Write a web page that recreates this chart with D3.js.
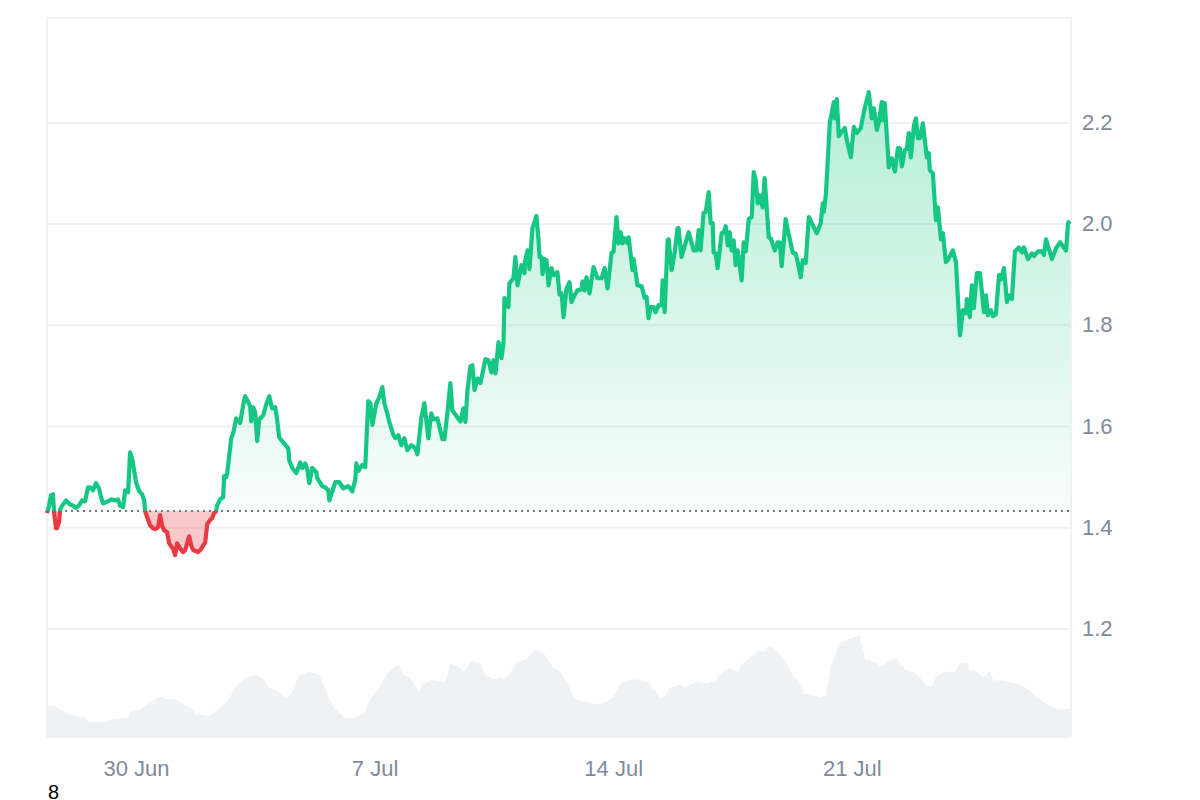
<!DOCTYPE html>
<html>
<head>
<meta charset="utf-8">
<script src="https://cdn.jsdelivr.net/npm/d3@7"></script>
<style>
  body { margin: 0; background: #fff; }
  text { font-family: "Liberation Sans", Arial, sans-serif; }
</style>
</head>
<body>
<svg width="1200" height="800"></svg>
<script>
// hours since the first sample, price at that hour
let priceHours = [0,1.4,2.8,4.2,4.9,6.3,7,8.5,9.2,10.6,13.4,16.2,18.3,20.4,22.6,24.7,26.8,28.9,30.3,32.4,34.5,36.6,38.1,39.5,43,45.1,48.6,50,51.5,53.6,55,56.4,57.1,58.5,59.9,61.3,62.7,64.1,65.5,67,68.4,69.1,70.5,72.6,74.7,76.1,78.2,79.6,81.1,82.5,84.6,86,88.8,90.2,91.6,93.7,95.9,97.3,100.1,101.5,102.9,106.4,108.5,111.4,112.8,114.9,116.3,117.7,119.1,119.8,121.9,124,124.8,126.2,126.9,129.7,131.1,133.2,134.6,136,138.1,139.5,141.7,143.1,143.8,145.2,146.6,148,149.4,152.2,154.4,156.5,157.9,158.6,160.7,162.1,163.5,165.6,169.9,170.6,172.7,175.5,178.3,179.7,181.8,183.2,184.7,186.8,189.6,190.3,193.8,195.9,198,198.8,201.6,203,205.8,208.6,212.2,215,217.1,217.8,219.2,222,224.1,226.2,227.7,229.1,231.9,234,236.1,237.5,239.6,241,243.9,245.3,247.4,249.5,251.6,253.7,256.5,259.4,260.8,263.6,265.7,268.5,270.6,272.1,274.9,278.4,279.8,281.9,284,285.4,289,291.1,293.2,294.6,296,298.1,299.5,301,303.1,305.2,308.7,310.8,312.9,314.3,315.8,317.9,320,321.4,322.1,324.9,325.6,328.4,329.8,331.3,334.1,336.2,336.5,338.3,339.7,341.8,344.6,346.1,346.8,348.2,348.9,350.3,351.7,353.1,355.2,356.6,359.4,360.9,362.3,363.7,365.8,367.9,369.3,371.4,373.5,376.4,377.1,378.5,379.9,382,384.8,387.6,390.5,392.6,394.7,397.5,398.9,401,402.4,403.9,405.3,406.7,408.8,409.5,412.3,413,415.8,418.7,420.8,422.2,423.6,425,427.1,428.5,430.6,432.7,433.5,434.9,437,437.7,439.8,441.9,444,444.7,446.8,451.8,455.3,457.4,458.8,460.2,462.3,463.8,465.9,467.3,468.7,469.4,470.8,472.2,475,476.5,477.9,479.3,480.7,482.1,483.5,484.9,486.3,489.1,490.5,492,494.1,496.2,497.6,499,500.4,501.8,503.9,505.3,508.2,509.6,512.4,514.5,515.9,517.3,520.1,521.6,525.1,527.2,528.6,530.7,532.1,534.2,536.4,539.2,542,544.8,546.2,546.9,548.4,551.2,554,554.7,556.1,557.5,558.9,561.7,563.2,566,568.1,570.2,573,575.1,578.6,580.7,582.2,584.3,585.7,587.8,588.5,589.9,592.7,594.9,597,599.1,600.5,601.9,604,605.4,606.8,608.2,610.4,611.8,613.2,614.6,616.7,619.5,620.9,621.6,623.7,625.9,627.3,629.4,630.8,632.9,634.3,637.8,640,642.8,644.9,647,647.7,649.8,651.2,652.6,654.7,656.9,659.7,661.1,662.5,664.6,666,668.1,670.3,671.7,673.8,675.9,677.3,679.4,681.5,684.3,686.5,687.9,690.7,693.5,694.9,697.8,700.6,702,703.4,707.6,710.4,713.3,717.5,718.9,720.3];
let prices = [1.428,1.442,1.463,1.465,1.432,1.398,1.398,1.41,1.434,1.442,1.453,1.445,1.443,1.438,1.443,1.453,1.451,1.479,1.479,1.473,1.487,1.477,1.459,1.447,1.451,1.455,1.453,1.455,1.442,1.44,1.473,1.471,1.469,1.548,1.536,1.513,1.489,1.477,1.469,1.465,1.453,1.432,1.42,1.404,1.398,1.396,1.4,1.424,1.402,1.394,1.39,1.368,1.357,1.345,1.368,1.358,1.351,1.355,1.382,1.364,1.355,1.351,1.357,1.37,1.406,1.414,1.418,1.428,1.432,1.443,1.455,1.459,1.501,1.499,1.507,1.576,1.586,1.615,1.611,1.606,1.641,1.659,1.647,1.639,1.609,1.637,1.627,1.57,1.613,1.621,1.643,1.659,1.641,1.635,1.637,1.611,1.578,1.57,1.556,1.532,1.517,1.507,1.528,1.517,1.526,1.515,1.487,1.517,1.509,1.497,1.481,1.479,1.473,1.453,1.477,1.489,1.489,1.477,1.481,1.471,1.495,1.526,1.511,1.523,1.519,1.649,1.645,1.602,1.645,1.657,1.677,1.645,1.625,1.608,1.582,1.576,1.582,1.562,1.576,1.552,1.562,1.556,1.544,1.617,1.645,1.576,1.625,1.613,1.615,1.574,1.574,1.625,1.685,1.631,1.617,1.609,1.635,1.608,1.669,1.718,1.72,1.671,1.694,1.685,1.732,1.73,1.706,1.73,1.704,1.766,1.734,1.764,1.853,1.835,1.882,1.892,1.934,1.878,1.918,1.902,1.924,1.947,1.91,1.991,2.015,1.967,1.934,1.934,1.9,1.93,1.928,1.878,1.912,1.898,1.904,1.86,1.862,1.815,1.872,1.884,1.845,1.858,1.868,1.87,1.886,1.868,1.894,1.862,1.914,1.892,1.892,1.912,1.872,1.942,1.944,2.013,1.961,1.983,1.961,1.971,1.961,1.973,1.908,1.93,1.878,1.876,1.853,1.855,1.813,1.835,1.835,1.825,1.839,1.839,1.888,1.825,1.967,1.969,1.908,1.942,1.991,1.991,1.934,1.983,1.947,1.947,1.987,1.947,2.021,2.023,2.062,2.001,2.001,1.943,1.941,1.912,1.981,1.983,1.995,1.957,1.983,1.947,1.967,1.918,1.947,1.888,1.963,1.945,2.009,2.013,2.102,2.086,2.04,2.056,2.032,2.09,1.973,1.971,1.947,1.963,1.963,1.916,2.009,1.987,1.943,1.94,1.924,1.894,1.928,1.922,2.013,1.997,1.981,2.001,2.04,2.023,2.056,2.2,2.24,2.208,2.246,2.173,2.179,2.189,2.165,2.131,2.191,2.179,2.189,2.22,2.26,2.208,2.228,2.185,2.2,2.24,2.204,2.238,2.111,2.129,2.103,2.149,2.149,2.113,2.145,2.147,2.179,2.131,2.194,2.208,2.169,2.169,2.198,2.131,2.139,2.105,2.1,2.007,2.032,1.969,1.981,1.924,1.928,1.947,1.924,1.779,1.829,1.823,1.851,1.815,1.878,1.833,1.902,1.902,1.825,1.858,1.819,1.829,1.817,1.821,1.898,1.89,1.912,1.845,1.858,1.851,1.945,1.953,1.943,1.953,1.93,1.941,1.936,1.945,1.945,1.938,1.969,1.93,1.951,1.963,1.947,2.001,2.005];

// hours since the first sample, relative volume
let volumeHours = [0,4.5,9.8,17.1,26.8,29.3,42.6,46.2,57.2,58.4,65.7,79.7,83.9,89.9,102.1,104.5,114.2,120.3,127.6,133.6,138.5,147,153,155.5,162.7,168.8,172.5,177.3,184.6,191.9,196.7,201.6,210.1,216.1,223.4,227.1,233.1,240.4,247.7,251.3,256.2,262.3,263.5,270.7,280.5,284.1,287.7,293.8,298.7,304.7,308.4,314.4,319.3,321.7,326.6,330.2,337.5,343.6,349.6,356.9,360.5,366.5,371.3,377.4,385.9,391.9,398,404.1,410.1,416.2,423.5,432,434.4,438.1,445.3,449,457.5,464.7,470.8,475.7,481.7,486.6,489,501.2,504.8,507.2,510.9,518.1,526.6,529.1,532.7,538.8,544.8,548.5,552.1,558.2,565.5,572.3,576.4,583.7,587.3,595.8,598.2,604.3,611.6,618.9,622.5,626.2,632.2,639.5,643.1,648,649.2,652.8,658.9,663.8,666.2,673.5,682,689.2,701.4,706.2,713.5,720.3];
let volumes = [0.307,0.33,0.28,0.23,0.207,0.163,0.163,0.187,0.203,0.263,0.287,0.42,0.387,0.393,0.287,0.237,0.217,0.287,0.38,0.53,0.587,0.64,0.58,0.513,0.463,0.397,0.447,0.63,0.663,0.63,0.463,0.307,0.197,0.197,0.247,0.38,0.497,0.663,0.74,0.63,0.597,0.453,0.53,0.58,0.563,0.74,0.73,0.663,0.773,0.753,0.63,0.587,0.613,0.587,0.663,0.747,0.787,0.887,0.847,0.697,0.68,0.547,0.397,0.363,0.34,0.347,0.397,0.547,0.58,0.587,0.553,0.397,0.407,0.497,0.53,0.503,0.563,0.547,0.58,0.663,0.697,0.663,0.73,0.88,0.853,0.913,0.913,0.813,0.597,0.58,0.44,0.43,0.407,0.43,0.73,0.947,0.997,1.023,0.787,0.753,0.713,0.797,0.797,0.68,0.653,0.53,0.513,0.613,0.663,0.663,0.753,0.753,0.68,0.687,0.607,0.663,0.58,0.57,0.547,0.503,0.363,0.32,0.28,0.297];

let basePrice = 1.432;
let yTicks = [1.2, 1.4, 1.6, 1.8, 2.0, 2.2];
let xTicks = ["2025-06-30", "2025-07-07", "2025-07-14", "2025-07-21"];
let startTime = Date.UTC(2025, 5, 27, 9, 20);

let green = "#16c784", red = "#ea3943", gridColor = "#eff2f5", labelColor = "#808a9d";
let plotLeft = 47, plotRight = 1070, plotTop = 18, plotBottom = 737;

let toDate = h => new Date(startTime + h * 3600e3);
let priceData = priceHours.map((h, i) => ({ t: toDate(h), v: prices[i] }));
let volumeData = volumeHours.map((h, i) => ({ t: toDate(h), v: volumes[i] }));

let x = d3.scaleUtc().domain([toDate(0), toDate(720.3)]).range([plotLeft, plotRight]);
let y = d3.scaleLinear().domain([1.2, 2.2]).range([628.4, 122.4]);
let yVol = d3.scaleLinear().domain([0, 1.02]).range([738, 636]);

let svg = d3.select("svg");

// gradients for the two sides of the baseline
let defs = svg.append("defs");
let gradient = (id, color, y1, y2, o1, o2) => {
  let g = defs.append("linearGradient").attr("id", id)
    .attr("gradientUnits", "userSpaceOnUse")
    .attr("x1", 0).attr("x2", 0).attr("y1", y1).attr("y2", y2);
  g.append("stop").attr("offset", 0).attr("stop-color", color).attr("stop-opacity", o1);
  g.append("stop").attr("offset", 1).attr("stop-color", color).attr("stop-opacity", o2);
};
gradient("fill-up", green, y(d3.max(prices)), y(basePrice), 0.32, 0.03);
gradient("fill-down", red, y(basePrice), y(d3.min(prices)), 0.28, 0.28);

defs.append("clipPath").attr("id", "above").append("rect")
  .attr("x", 0).attr("y", 0).attr("width", 1200).attr("height", y(basePrice));
defs.append("clipPath").attr("id", "below").append("rect")
  .attr("x", 0).attr("y", y(basePrice)).attr("width", 1200).attr("height", 800);

// frame
svg.append("path")
  .attr("d", `M${plotLeft},${plotBottom}V${plotTop}H${plotRight + 1}V${plotBottom}`)
  .attr("fill", "none").attr("stroke", gridColor).attr("stroke-width", 2);

// price axis with gridlines
let yAxis = svg.append("g")
  .attr("transform", `translate(${plotRight},0)`)
  .call(d3.axisRight(y).tickValues(yTicks).tickFormat(d3.format(".1f")).tickSize(-(plotRight - plotLeft)));
yAxis.select(".domain").remove();
yAxis.selectAll("line").attr("stroke", gridColor).attr("stroke-width", 2);
yAxis.selectAll("text").attr("fill", labelColor).attr("x", 12).style("font-size", "22px");

// date axis
let xAxis = svg.append("g")
  .attr("transform", `translate(0,${plotBottom})`)
  .call(d3.axisBottom(x).tickValues(xTicks.map(d => new Date(d))).tickFormat(d3.utcFormat("%-d %b")).tickSize(0).tickPadding(23));
xAxis.select(".domain").remove();
xAxis.selectAll("text").attr("fill", labelColor).style("font-size", "22px");

// volume
svg.append("path").datum(volumeData)
  .attr("fill", gridColor)
  .attr("d", d3.area().x(d => x(d.t)).y0(yVol(0)).y1(d => yVol(d.v)));

// price area and line, split at the baseline
let area = d3.area().x(d => x(d.t)).y0(y(basePrice)).y1(d => y(d.v));
let line = d3.line().x(d => x(d.t)).y(d => y(d.v));

[["above", "fill-up", green], ["below", "fill-down", red]].forEach(([clip, fill, color]) => {
  let g = svg.append("g").attr("clip-path", `url(#${clip})`);
  g.append("path").datum(priceData).attr("fill", `url(#${fill})`).attr("d", area);
  g.append("path").datum(priceData)
    .attr("fill", "none").attr("stroke", color).attr("stroke-width", 4.2)
    .attr("stroke-linejoin", "round").attr("d", line);
});

// baseline
svg.append("line")
  .attr("x1", plotLeft).attr("x2", plotRight)
  .attr("y1", y(basePrice)).attr("y2", y(basePrice))
  .attr("stroke", "#777").attr("stroke-width", 2).attr("stroke-dasharray", "2 4");

svg.append("text").attr("x", 48).attr("y", 799).attr("fill", "#000").style("font-size", "20px").text("8");
</script>
</body>
</html>
